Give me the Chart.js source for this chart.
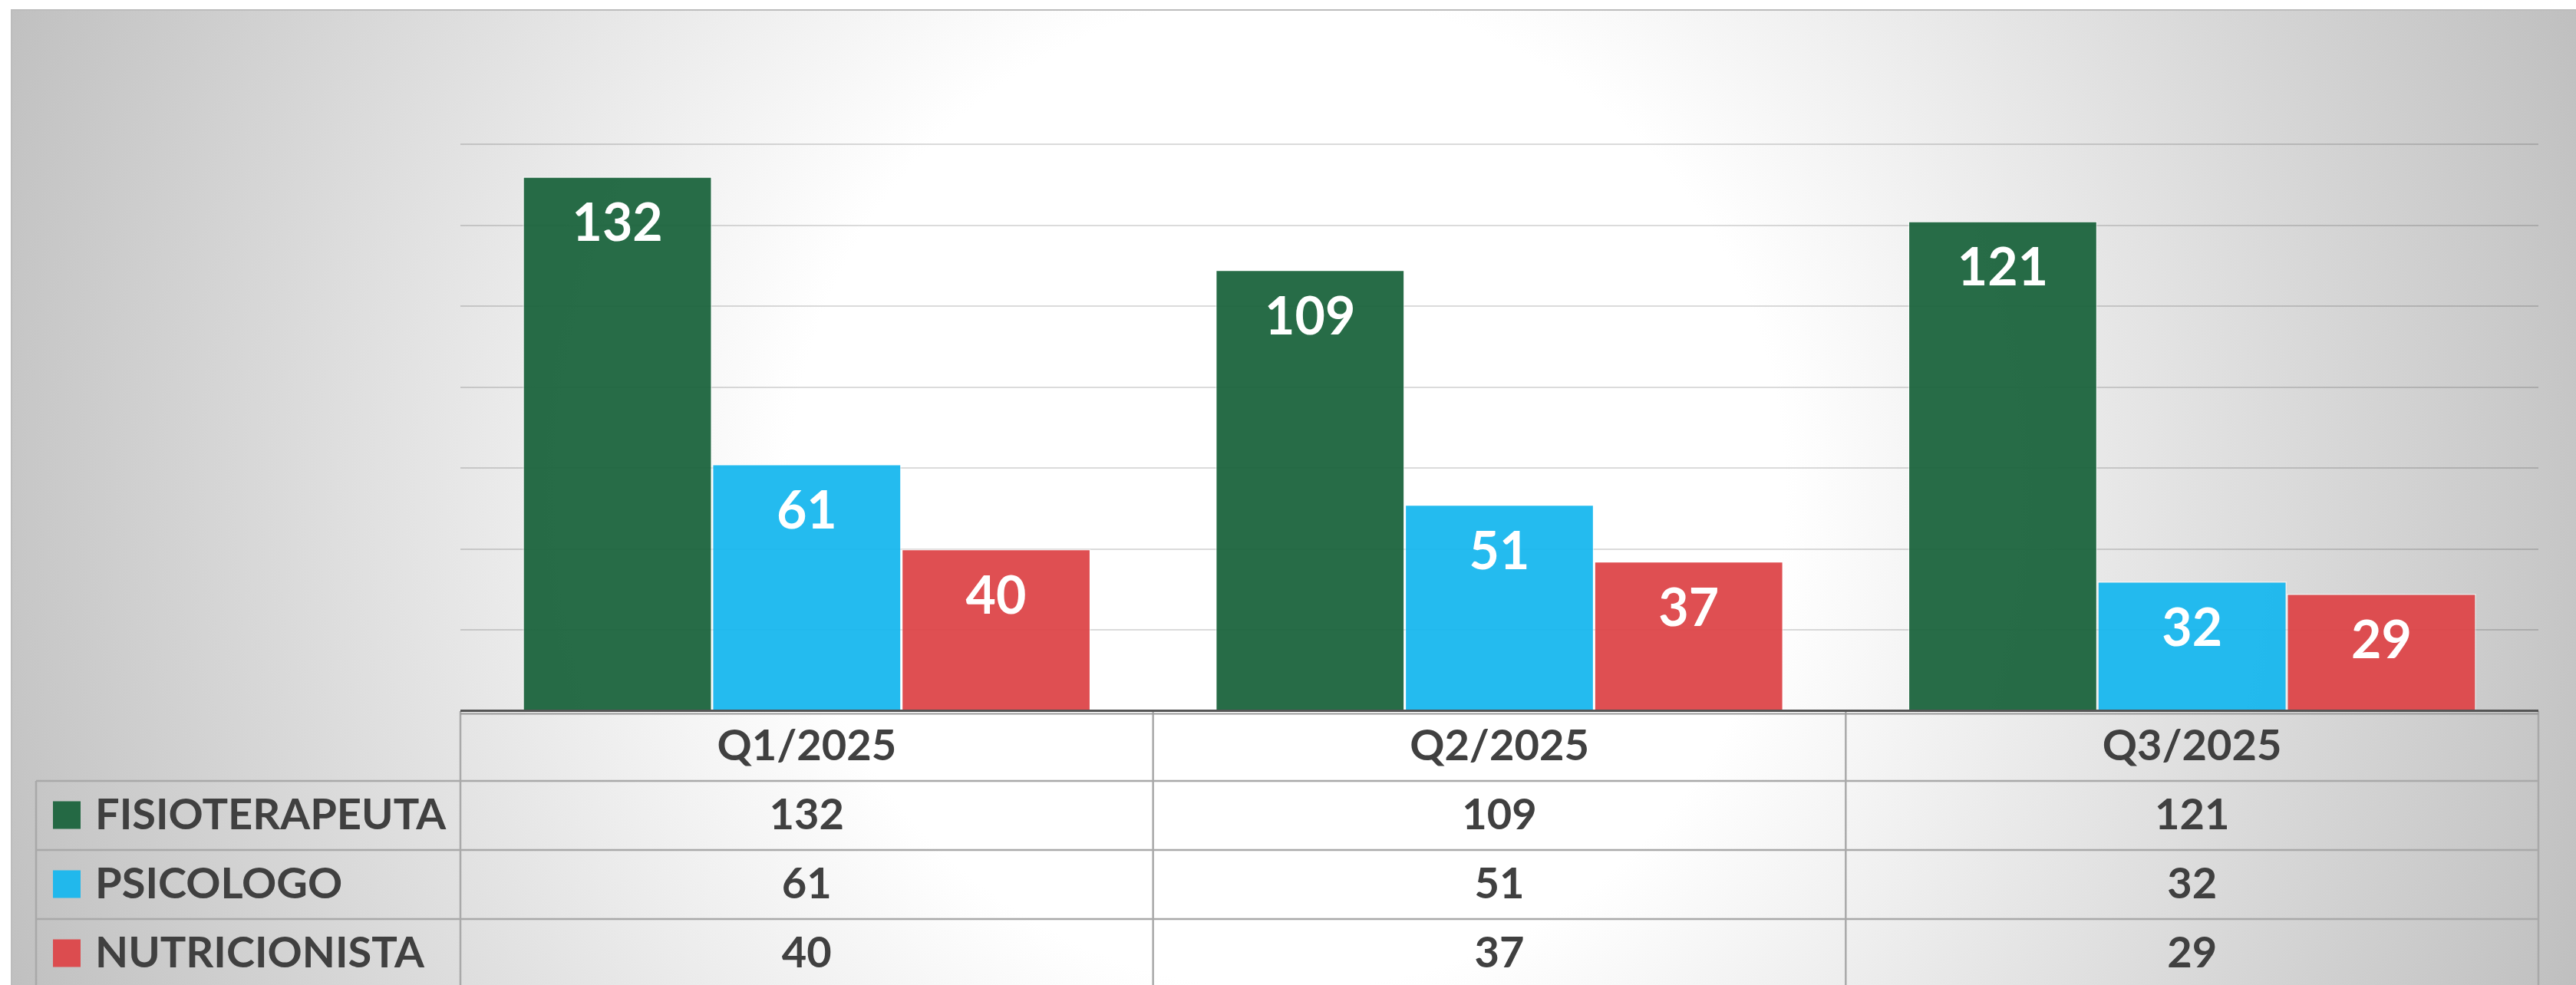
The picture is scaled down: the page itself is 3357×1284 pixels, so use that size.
<!DOCTYPE html>
<html lang="pt">
<head>
<meta charset="UTF-8">
<title>Atendimentos por trimestre</title>
<script src="https://cdn.jsdelivr.net/npm/chart.js"></script>
<style>
  html, body { margin: 0; padding: 0; background: #fff; }
  #wrap { width: 3357px; height: 1284px; position: relative; }
</style>
</head>
<body>
<div id="wrap"><canvas id="myChart"></canvas></div>
<script>
// data
const quarters = ['Q1/2025', 'Q2/2025', 'Q3/2025'];
const fisioterapeuta = [132, 109, 121];
const psicologo = [61, 51, 32];
const nutricionista = [40, 37, 29];
const seriesNames = ['FISIOTERAPEUTA', 'PSICOLOGO', 'NUTRICIONISTA'];
const seriesColors = ['rgba(27,100,61,0.95)', 'rgba(24,183,238,0.95)', 'rgba(221,70,73,0.95)'];

const FONT = 'Lato, "Open Sans", sans-serif';
const TEXT = '#404040';

// background, drawn before everything
const backgroundPlugin = {
  id: 'bg',
  beforeDraw(chart) {
    const ctx = chart.ctx;
    const w = chart.width, h = chart.height;
    ctx.save();
    ctx.fillStyle = '#fff';
    ctx.fillRect(0, 0, w, h);
    const g = ctx.createRadialGradient(1678, 642, 0, 1678, 642, 1800);
    g.addColorStop(0, '#ffffff');
    g.addColorStop(0.36, '#ffffff');
    g.addColorStop(1, '#bfbfbf');
    ctx.fillStyle = g;
    ctx.fillRect(14, 12, w - 14, h - 12);
    ctx.strokeStyle = '#bcbcbc';
    ctx.lineWidth = 2;
    ctx.beginPath();
    ctx.moveTo(15, h);
    ctx.lineTo(15, 13);
    ctx.lineTo(w, 13);
    ctx.stroke();
    ctx.restore();
  }
};

// value labels inside bar tops + data table under the plot
const tablePlugin = {
  id: 'table',
  afterDraw(chart) {
    const ctx = chart.ctx;
    const area = chart.chartArea;
    const xs = chart.scales.x;
    const colW = area.width / quarters.length;
    const rowH = 91;
    const base = area.bottom;
    const tableLeft = 47;

    ctx.save();
    // labels on bars
    ctx.fillStyle = '#fff';
    ctx.font = 'bold 68px ' + FONT;
    ctx.textAlign = 'center';
    ctx.textBaseline = 'middle';
    chart.data.datasets.forEach((ds, di) => {
      chart.getDatasetMeta(di).data.forEach((bar, i) => {
        ctx.fillText(String(ds.data[i]), bar.x, bar.y + 62);
      });
    });

    // table grid
    ctx.strokeStyle = '#a9a9a9';
    ctx.lineWidth = 2.5;
    ctx.beginPath();
    for (let c = 0; c <= quarters.length; c++) {
      const x = area.left + c * colW;
      ctx.moveTo(x, base);
      ctx.lineTo(x, chart.height);
    }
    ctx.moveTo(tableLeft, base + rowH);
    ctx.lineTo(tableLeft, chart.height);
    for (let r = 1; r <= seriesNames.length; r++) {
      const y = base + r * rowH - (r - 1);
      ctx.moveTo(tableLeft, y);
      ctx.lineTo(area.right, y);
    }
    ctx.stroke();

    // axis line
    ctx.strokeStyle = '#9a9a9a';
    ctx.lineWidth = 2;
    ctx.beginPath();
    ctx.moveTo(area.left, base + 3.5);
    ctx.lineTo(area.right, base + 3.5);
    ctx.stroke();
    ctx.strokeStyle = '#555';
    ctx.lineWidth = 3;
    ctx.beginPath();
    ctx.moveTo(area.left, base - 0.5);
    ctx.lineTo(area.right, base - 0.5);
    ctx.stroke();

    // header + values
    ctx.fillStyle = TEXT;
    ctx.font = 'bold 56px ' + FONT;
    ctx.textAlign = 'center';
    quarters.forEach((q, i) => {
      ctx.fillText(q, xs.getPixelForValue(i), base + rowH / 2);
    });
    chart.data.datasets.forEach((ds, di) => {
      const cy = base + (di + 1) * rowH - di + rowH / 2 - 1;
      ds.data.forEach((v, i) => {
        ctx.fillStyle = TEXT;
        ctx.textAlign = 'center';
        ctx.fillText(String(v), xs.getPixelForValue(i), cy);
      });
      // legend key
      ctx.fillStyle = ds.backgroundColor;
      ctx.fillRect(69, cy - 18, 36, 36);
      ctx.fillStyle = TEXT;
      ctx.textAlign = 'left';
      ctx.fillText(ds.label, 124, cy);
    });
    ctx.restore();
  }
};

const ctx = document.getElementById('myChart').getContext('2d');

const chart = new Chart(ctx, {
  type: 'bar',
  data: {
    labels: quarters,
    datasets: [{
      label: seriesNames[0],
      data: fisioterapeuta,
      backgroundColor: seriesColors[0]
    }, {
      label: seriesNames[1],
      data: psicologo,
      backgroundColor: seriesColors[1]
    }, {
      label: seriesNames[2],
      data: nutricionista,
      backgroundColor: seriesColors[2]
    }]
  },
  options: {
    responsive: true,
    maintainAspectRatio: false,
    animation: false,
    devicePixelRatio: 1,
    datasets: {
      bar: {
        categoryPercentage: 0.82,
        barPercentage: 1.0,
        borderWidth: 1.5,
        borderColor: 'rgba(255,255,255,0.55)'
      }
    },
    layout: {
      padding: { left: 600, top: 188, right: 49, bottom: 357 }
    },
    scales: {
      x: {
        display: false
      },
      y: {
        min: 0,
        max: 140,
        z: 1,
        ticks: { display: false, stepSize: 20 },
        border: { display: false },
        grid: { color: 'rgba(0,0,0,0.14)', lineWidth: 2, drawTicks: false }
      }
    },
    plugins: {
      legend: { display: false },
      tooltip: { enabled: false }
    }
  },
  plugins: [backgroundPlugin, tablePlugin]
});
</script>
</body>
</html>
